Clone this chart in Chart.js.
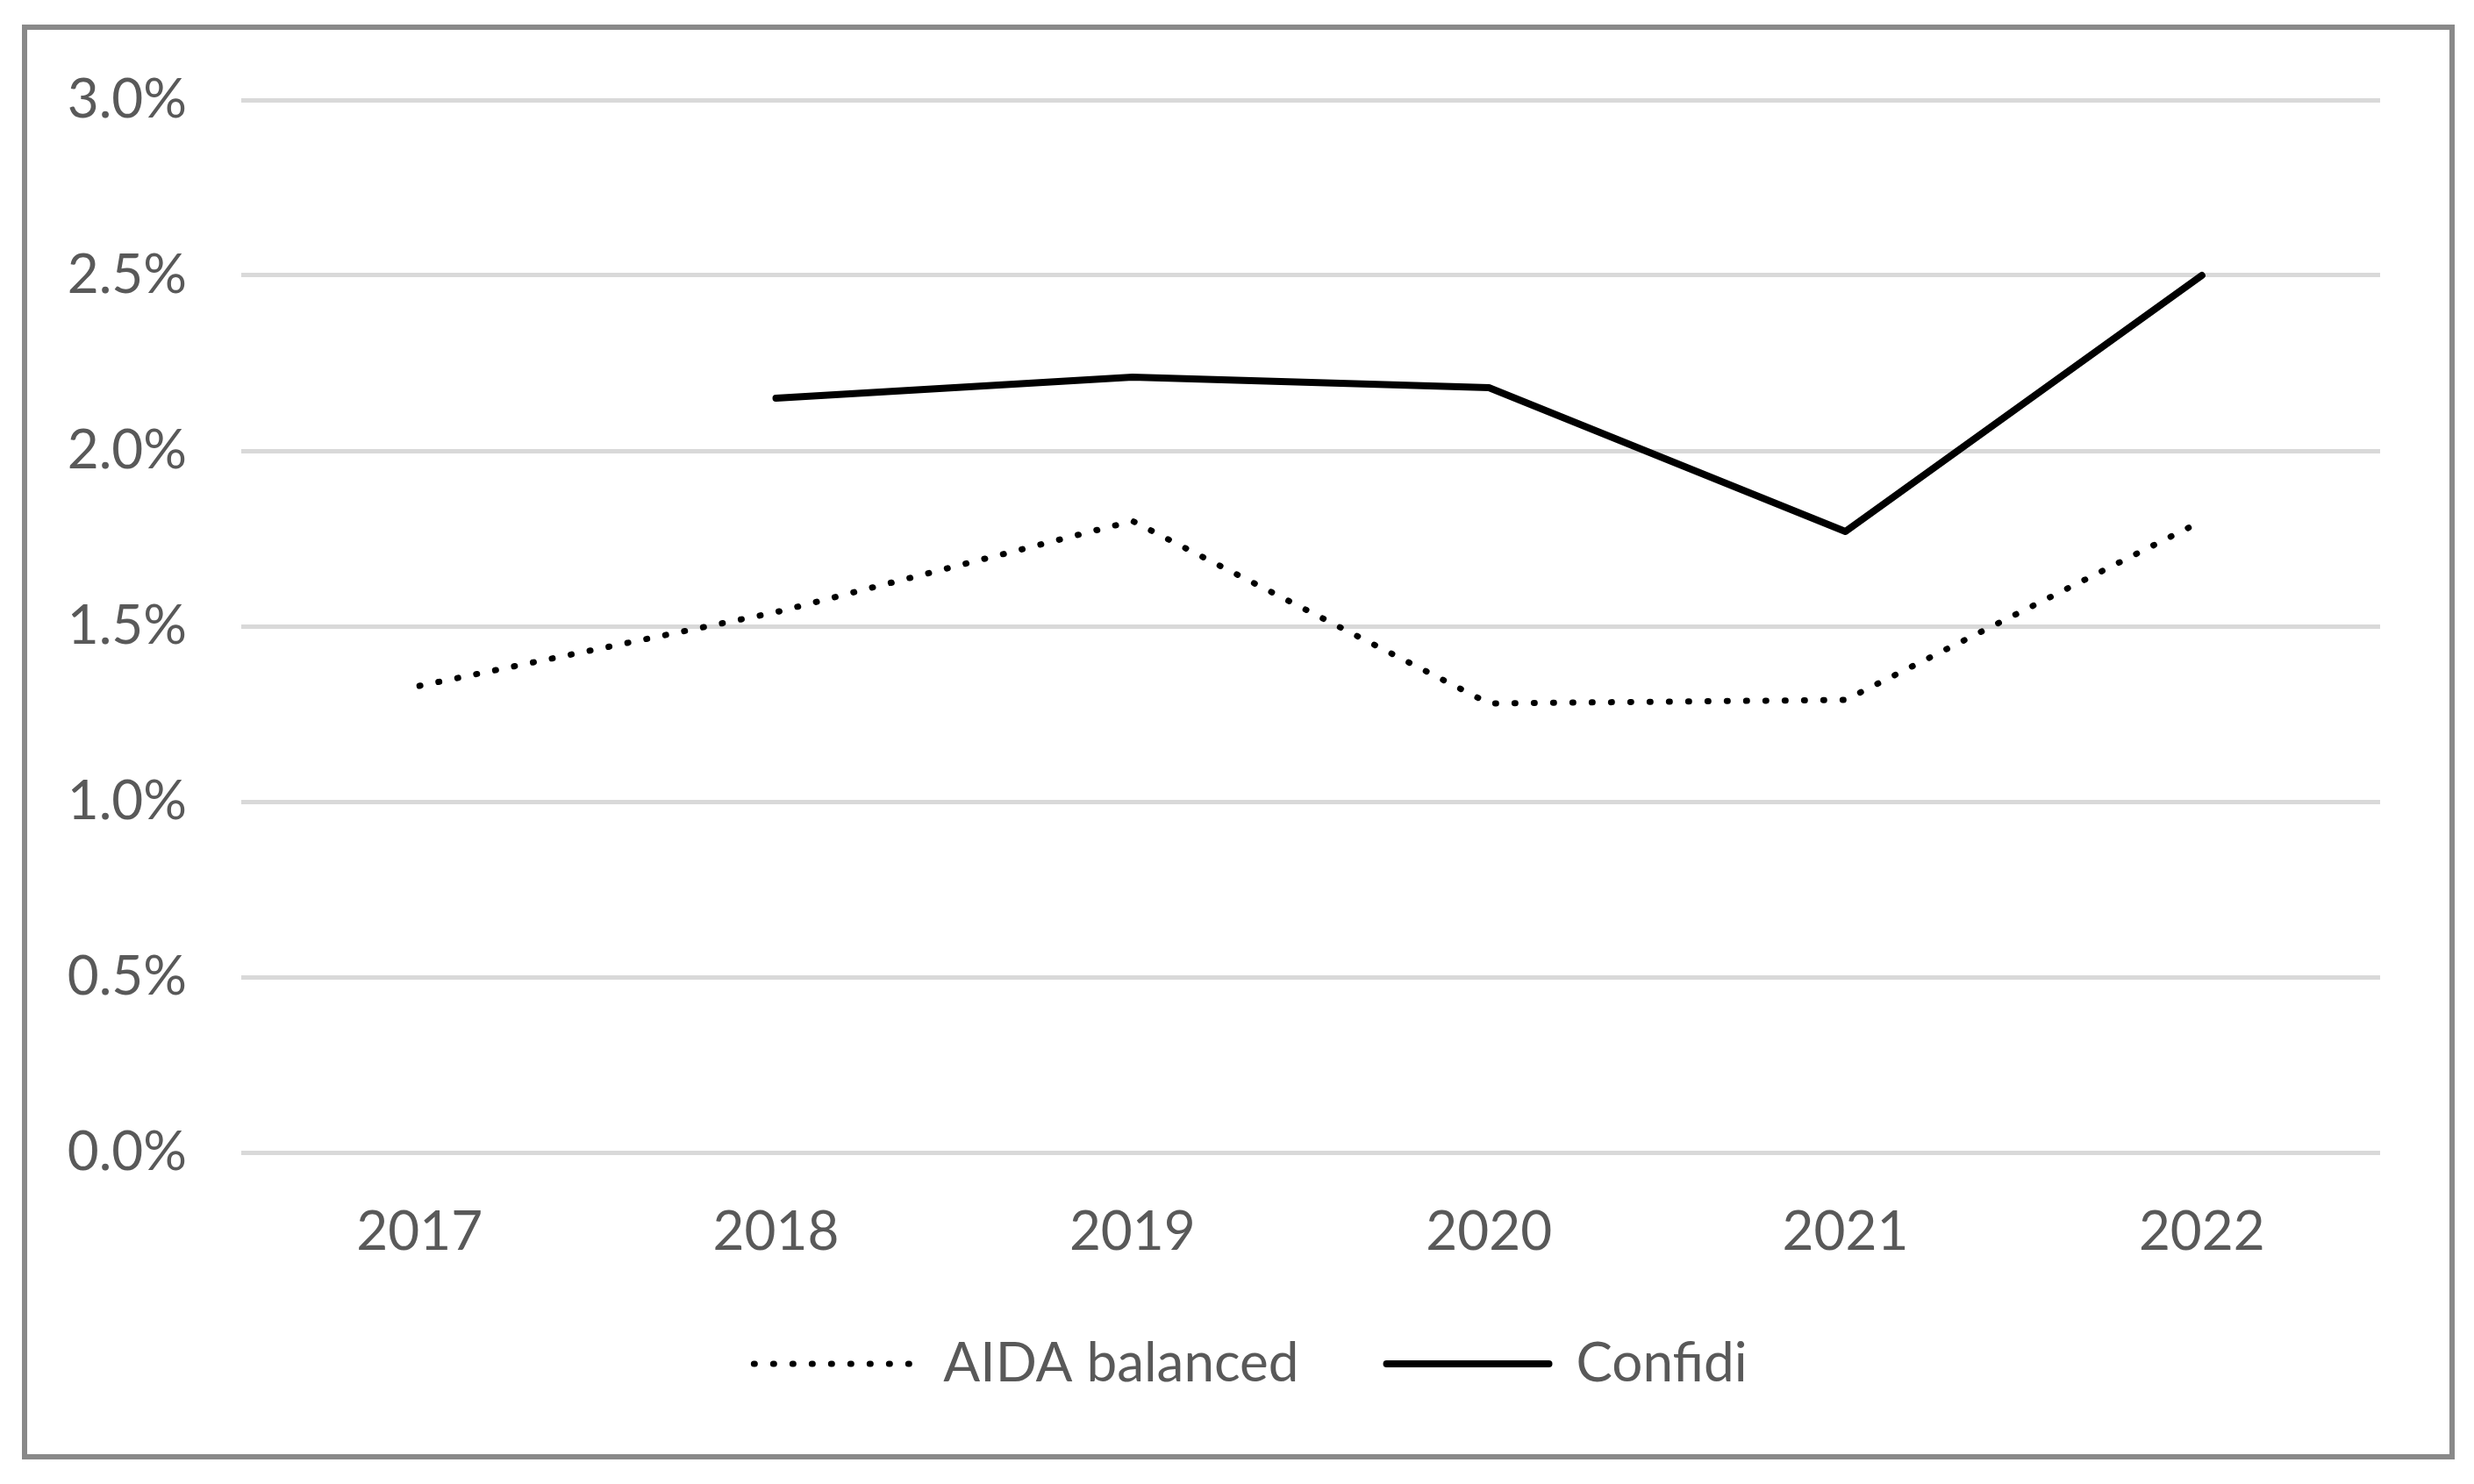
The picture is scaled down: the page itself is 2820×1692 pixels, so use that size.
<!DOCTYPE html>
<html>
<head>
<meta charset="utf-8">
<script src="https://cdn.jsdelivr.net/npm/chart.js@4.4.1/dist/chart.umd.min.js"></script>
<style>
  html, body { margin: 0; padding: 0; background: #ffffff; }
  #wrap { position: absolute; left: 0; top: 0; width: 2820px; height: 1692px; }
</style>
</head>
<body>
<div id="wrap"><canvas id="c" width="2820" height="1692"></canvas></div>
<script>
const years = ['2017', '2018', '2019', '2020', '2021', '2022'];
const aidaBalanced = [1.33, 1.54, 1.80, 1.28, 1.29, 1.80];
const confidi = [null, 2.15, 2.21, 2.18, 1.77, 2.50];
const seriesNames = ['AIDA balanced', 'Confidi'];
const yTicks = [0, 0.5, 1.0, 1.5, 2.0, 2.5, 3.0];

const TEXT = '#595959';
const FONT = 'Lato, "Open Sans", "Noto Sans", sans-serif';

const frame = {
  id: 'frame',
  beforeDraw(chart) {
    const ctx = chart.ctx;
    ctx.save();
    ctx.fillStyle = '#ffffff';
    ctx.fillRect(0, 0, chart.width, chart.height);
    ctx.strokeStyle = '#898989';
    ctx.lineWidth = 6;
    ctx.strokeRect(28, 31, 2795 - 28, 1661 - 31);
    ctx.restore();
  }
};

const legendShift = {
  id: 'legendShift',
  afterLayout(chart) {
    const lg = chart.legend;
    if (!lg) return;
    lg.left += 34; lg.right += 34;
    lg.top -= 40; lg.bottom -= 40;
  }
};

new Chart(document.getElementById('c'), {
  type: 'line',
  data: {
    labels: years,
    datasets: [
      {
        label: seriesNames[0],
        data: aidaBalanced,
        borderColor: '#000000',
        backgroundColor: '#000000',
        borderWidth: 7,
        borderDash: [1, 21],
        borderCapStyle: 'round',
        borderJoinStyle: 'round',
        pointRadius: 0,
        tension: 0,
        fill: false
      },
      {
        label: seriesNames[1],
        data: confidi,
        borderColor: '#000000',
        backgroundColor: '#000000',
        borderWidth: 8,
        borderCapStyle: 'round',
        borderJoinStyle: 'round',
        pointRadius: 0,
        tension: 0,
        fill: false
      }
    ]
  },
  options: {
    responsive: false,
    devicePixelRatio: 1,
    animation: false,
    layout: { padding: { left: 70, right: 107, top: 114, bottom: 56 } },
    plugins: {
      tooltip: { enabled: false },
      legend: {
        display: true,
        position: 'bottom',
        labels: {
          usePointStyle: true,
          pointStyleWidth: 185,
          boxWidth: 185,
          boxHeight: 62,
          padding: 100,
          color: TEXT,
          font: { family: FONT, size: 62 },
          generateLabels(chart) {
            return chart.data.datasets.map((ds, i) => ({
              text: ds.label,
              fillStyle: ds.borderColor,
              strokeStyle: ds.borderColor,
              lineWidth: ds.borderWidth,
              lineDash: ds.borderDash || [],
              lineCap: 'round',
              pointStyle: 'line',
              fontColor: TEXT,
              hidden: false,
              datasetIndex: i
            }));
          }
        }
      }
    },
    scales: {
      x: {
        offset: true,
        grid: { display: false, offset: true },
        border: { display: false },
        ticks: { color: TEXT, font: { family: FONT, size: 62 }, padding: 46, maxRotation: 0 },
        afterFit(scale) { scale.height = 150; }
      },
      y: {
        min: 0,
        max: 3,
        border: { display: false },
        grid: { color: '#d9d9d9', lineWidth: 5, drawTicks: false },
        afterBuildTicks(scale) { scale.ticks = yTicks.map(v => ({ value: v })); },
        ticks: {
          color: TEXT,
          font: { family: FONT, size: 62 },
          padding: 62,
          callback: (v) => Number(v).toFixed(1) + '%'
        },
        afterFit(scale) { scale.width = 205; }
      }
    }
  },
  plugins: [frame, legendShift]
});
</script>
</body>
</html>
